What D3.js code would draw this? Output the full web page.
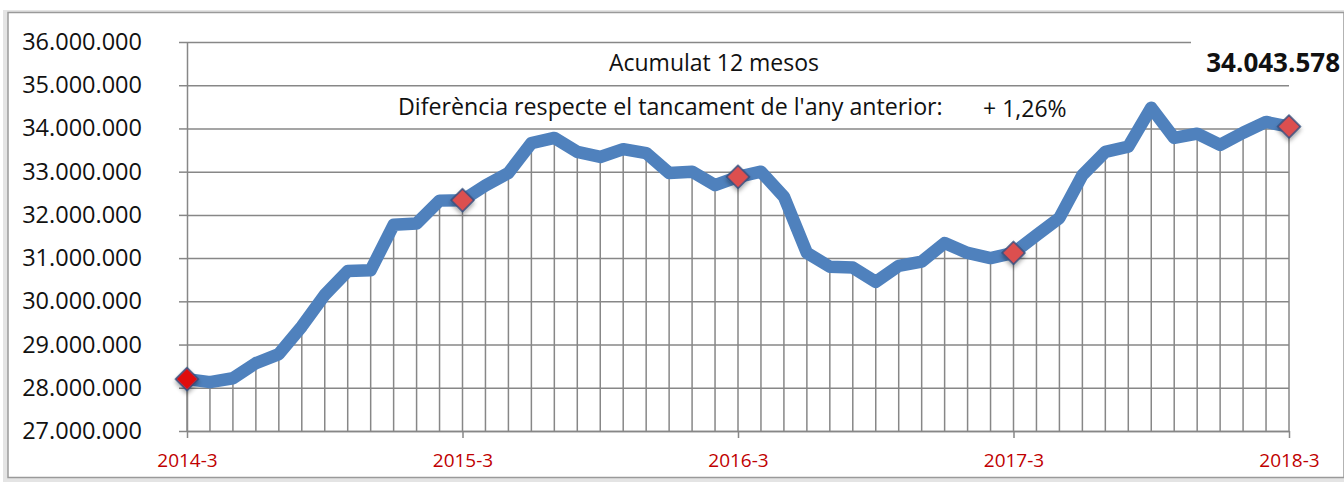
<!DOCTYPE html>
<html>
<head>
<meta charset="utf-8">
<script src="https://cdn.jsdelivr.net/npm/d3@7"></script>
<style>
  body { margin: 0; background: #fff; }
  svg { display: block; }
</style>
</head>
<body>
<script>
// monthly categories, 2014-3 .. 2018-3
var months = ["2014-3","2014-4","2014-5","2014-6","2014-7","2014-8","2014-9","2014-10","2014-11","2014-12","2015-1","2015-2",
              "2015-3","2015-4","2015-5","2015-6","2015-7","2015-8","2015-9","2015-10","2015-11","2015-12","2016-1","2016-2",
              "2016-3","2016-4","2016-5","2016-6","2016-7","2016-8","2016-9","2016-10","2016-11","2016-12","2017-1","2017-2",
              "2017-3","2017-4","2017-5","2017-6","2017-7","2017-8","2017-9","2017-10","2017-11","2017-12","2018-1","2018-2",
              "2018-3"];
// accumulated 12 months
var values = [28200000, 28130000, 28220000, 28570000, 28780000, 29420000, 30150000, 30700000, 30720000, 31770000, 31800000, 32330000,
              32340000, 32680000, 32970000, 33660000, 33780000, 33460000, 33340000, 33520000, 33430000, 32970000, 33000000, 32690000,
              32880000, 33000000, 32420000, 31120000, 30800000, 30780000, 30450000, 30820000, 30920000, 31350000, 31120000, 31000000,
              31120000, 31530000, 31930000, 32920000, 33460000, 33580000, 34480000, 33780000, 33880000, 33620000, 33900000, 34150000,
              34043578];
var markerMonths = ["2014-3","2015-3","2016-3","2017-3","2018-3"];
var tickLabels = ["2014-3","2015-3","2016-3","2017-3","2018-3"];
var yTicks = [27000000, 28000000, 29000000, 30000000, 31000000, 32000000, 33000000, 34000000, 35000000, 36000000];

var title = "Acumulat 12 mesos";
var diffLabel = "Diferència respecte el tancament de l'any anterior:";
var diffValue = "+ 1,26%";
var lastValue = "34.043.578";

var width = 1344, height = 482;
var x0 = 187, x1 = 1289, yTop = 42, yBot = 431;

var svg = d3.select("body").append("svg")
  .attr("width", width)
  .attr("height", height);

var defs = svg.append("defs");
var sh = defs.append("filter").attr("id","shadow").attr("x","-50%").attr("y","-50%").attr("width","200%").attr("height","200%");
sh.append("feDropShadow").attr("dx",2).attr("dy",2).attr("stdDeviation",2).attr("flood-color","#000").attr("flood-opacity",0.35);

// outer frame with soft shadow
svg.append("rect")
  .attr("x", 3).attr("y", 10).attr("width", 1341).attr("height", 472)
  .attr("fill", "#e4e4e4");
svg.append("rect")
  .attr("x", 8).attr("y", 12.5).attr("width", 1336).attr("height", 465)
  .attr("fill", "#fff")
  .attr("stroke", "#9a9a9a")
  .attr("stroke-width", 1.5);

var locale = d3.formatLocale({decimal: ",", thousands: ".", grouping: [3], currency: ["", "€"]});
var fmt = locale.format(",");

var xScale = d3.scalePoint().domain(months).range([x0, x1]);
var yScale = d3.scaleLinear().domain([27000000, 36000000]).range([yBot, yTop]);

var data = months.map(function(m, i) { return {month: m, value: values[i]}; });

// horizontal gridlines
svg.append("g")
  .attr("transform", "translate(" + x0 + ",0)")
  .call(d3.axisLeft(yScale).tickValues(yTicks).tickSize(-(x1 - x0)).tickFormat(""))
  .call(function(g) {
    g.select(".domain").remove();
    g.selectAll("line").attr("stroke", "#878787").attr("stroke-width", 1.5);
  });

// y axis
svg.append("g")
  .attr("transform", "translate(" + x0 + ",0)")
  .call(d3.axisLeft(yScale).tickValues(yTicks).tickSize(8).tickSizeOuter(0).tickPadding(37).tickFormat(fmt))
  .call(function(g) {
    g.select(".domain").attr("stroke", "#878787").attr("stroke-width", 1.5);
    g.selectAll("line").attr("stroke", "#878787").attr("stroke-width", 1.5);
    g.selectAll("text")
      .attr("fill", "#111")
      .style("font-family", "'Open Sans', sans-serif")
      .style("font-size", "23.5px");
  });

// drop lines
svg.append("g").selectAll("line")
  .data(data)
  .enter().append("line")
  .attr("x1", function(d) { return xScale(d.month); })
  .attr("x2", function(d) { return xScale(d.month); })
  .attr("y1", function(d) { return yScale(d.value); })
  .attr("y2", yBot)
  .attr("stroke", "#878787")
  .attr("stroke-width", 1.5);

// x axis
svg.append("g")
  .attr("transform", "translate(0," + yBot + ")")
  .call(d3.axisBottom(xScale).tickValues(tickLabels).tickSize(7).tickSizeOuter(0))
  .call(function(g) {
    g.select(".domain").attr("stroke", "#878787").attr("stroke-width", 1.5);
    g.selectAll("line").attr("stroke", "#878787").attr("stroke-width", 1.5);
    g.selectAll("text")
      .attr("y", 36).attr("dy", 0)
      .attr("fill", "#C00000")
      .style("font-family", "'Open Sans', sans-serif")
      .style("font-size", "19px");
  });

// white box behind the last value
svg.append("rect")
  .attr("x", 1191).attr("y", 30).attr("width", 150).attr("height", 50)
  .attr("fill", "#fff");

// data line
var line = d3.line()
  .x(function(d) { return xScale(d.month); })
  .y(function(d) { return yScale(d.value); });

svg.append("path")
  .datum(data)
  .attr("d", line)
  .attr("fill", "none")
  .attr("stroke", "#4F81BD")
  .attr("stroke-width", 12.5)
  .attr("stroke-linejoin", "round");

// diamond markers
svg.append("g").selectAll("path")
  .data(data.filter(function(d) { return markerMonths.indexOf(d.month) >= 0; }))
  .enter().append("path")
  .attr("d", d3.symbol().type(d3.symbolSquare).size(260))
  .attr("transform", function(d) { return "translate(" + xScale(d.month) + "," + yScale(d.value) + ") rotate(45)"; })
  .attr("fill", function(d, i) { return i == 0 ? "#E01010" : "#DC5050"; })
  .attr("stroke", "#2F4F7F")
  .attr("stroke-width", 1.5)
  .attr("filter", "url(#shadow)");

// texts
svg.append("text")
  .attr("x", 714).attr("y", 71)
  .attr("text-anchor", "middle")
  .style("font-family", "'Open Sans', sans-serif")
  .style("font-size", "23px")
  .attr("fill", "#111")
  .text(title);

svg.append("text")
  .attr("x", 398).attr("y", 115)
  .style("font-family", "'Open Sans', sans-serif")
  .style("font-size", "23.2px")
  .attr("fill", "#111")
  .text(diffLabel);

svg.append("text")
  .attr("x", 983).attr("y", 117)
  .style("font-family", "'Open Sans', sans-serif")
  .style("font-size", "23px")
  .attr("fill", "#111")
  .text(diffValue);

svg.append("text")
  .attr("x", 1340).attr("y", 72)
  .attr("text-anchor", "end")
  .style("font-family", "'Open Sans', sans-serif")
  .style("font-size", "26px")
  .style("font-weight", "bold")
  .attr("fill", "#111")
  .text(lastValue);
</script>
</body>
</html>
